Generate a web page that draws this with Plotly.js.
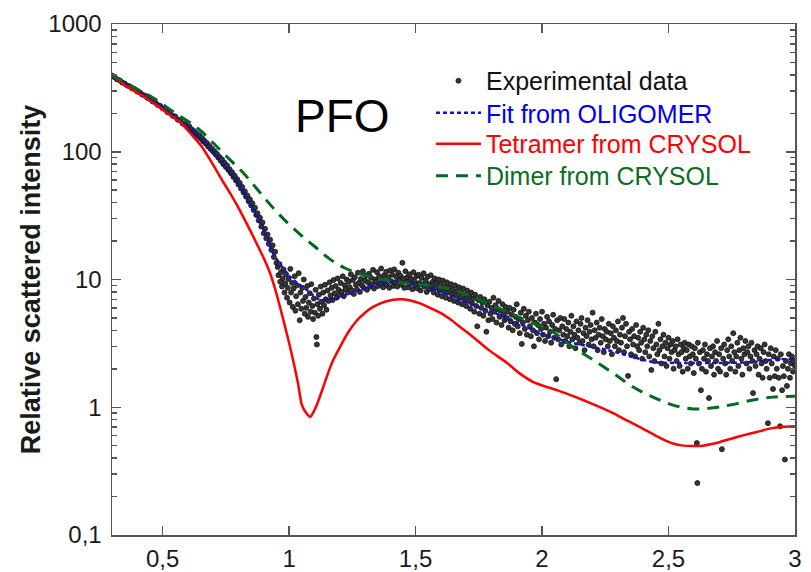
<!DOCTYPE html>
<html>
<head>
<meta charset="utf-8">
<script src="https://cdn.plot.ly/plotly-3.0.1.min.js"></script>
<style>html,body{margin:0;padding:0;background:#fff;}#chart{width:811px;height:572px;}</style>
</head>
<body>
<div id="chart"></div>
<script>
const expX = [
0.300,0.310,0.320,0.330,0.340,0.350,0.360,0.370,0.380,0.390,
0.400,0.410,0.420,0.430,0.440,0.450,0.460,0.470,0.480,0.490,
0.500,0.510,0.520,0.530,0.540,0.550,0.560,0.570,0.580,0.590,
0.600,0.605,0.610,0.615,0.620,0.625,0.630,0.635,0.640,0.645,
0.650,0.655,0.660,0.665,0.670,0.675,0.680,0.685,0.690,0.695,
0.700,0.705,0.710,0.715,0.720,0.725,0.730,0.735,0.740,0.745,
0.750,0.755,0.760,0.765,0.770,0.775,0.780,0.785,0.790,0.795,
0.800,0.805,0.810,0.815,0.820,0.825,0.830,0.835,0.840,0.845,
0.850,0.855,0.860,0.865,0.870,0.875,0.880,0.885,0.890,0.895,
0.900,0.905,0.910,0.915,0.920,0.925,0.930,0.935,0.940,0.945,0.950,
0.955,0.958,0.962,0.965,0.968,0.972,0.975,0.978,0.982,0.985,0.988,0.992,0.995,0.998,1.002,1.005,1.008,1.012,1.015,1.018,
1.022,1.025,1.028,1.032,1.035,1.038,1.042,1.045,1.048,1.052,1.055,1.058,1.062,1.065,1.068,1.072,1.075,1.078,1.082,1.085,
1.088,1.092,1.095,1.098,1.102,1.105,1.108,1.110,1.112,1.115,1.118,1.122,1.125,1.128,1.132,1.135,1.138,1.142,1.145,1.148,
1.152,1.156,1.160,1.164,1.168,1.172,1.176,1.180,1.184,1.188,1.192,1.196,1.200,1.204,1.208,1.212,1.216,1.220,1.224,1.228,
1.232,1.236,1.240,1.244,1.248,1.252,1.256,1.260,1.264,1.268,1.272,1.276,1.280,1.284,1.288,1.292,1.296,1.300,1.304,1.308,
1.312,1.316,1.320,1.324,1.328,1.332,1.336,1.340,1.344,1.348,1.352,1.356,1.360,1.364,1.368,1.372,1.376,1.380,1.384,1.388,
1.392,1.396,1.400,1.404,1.408,1.412,1.416,1.420,1.424,1.428,1.432,1.436,1.440,1.444,1.448,1.452,1.456,1.460,1.464,1.468,
1.472,1.476,1.480,1.484,1.488,1.492,1.496,1.500,1.504,1.508,1.512,1.516,1.520,1.524,1.528,1.532,1.536,1.540,1.544,1.548,
1.552,1.556,1.560,1.564,1.568,1.572,1.576,1.580,1.584,1.588,1.592,1.596,1.600,1.604,1.608,1.612,1.616,1.620,1.624,1.628,
1.632,1.636,1.640,1.644,1.648,1.652,1.656,1.660,1.664,1.668,1.672,1.676,1.680,1.684,1.688,1.692,1.696,1.700,1.704,1.708,
1.712,1.716,1.720,1.724,1.728,1.732,1.736,1.740,1.744,1.748,1.752,1.756,1.760,1.764,1.768,1.772,1.776,1.780,1.784,1.788,
1.792,1.796,1.800,1.804,1.808,1.812,1.816,1.820,1.824,1.828,1.832,1.836,1.840,1.844,1.848,1.852,1.856,1.860,1.864,1.868,
1.872,1.876,1.880,1.884,1.888,1.892,1.896,1.900,1.904,1.908,1.912,1.916,1.920,1.924,1.928,1.932,1.936,1.940,1.944,1.948,
1.952,1.956,1.960,1.964,1.968,1.972,1.976,1.980,1.984,1.988,1.992,1.996,2.000,2.004,2.008,2.012,2.016,2.020,2.024,2.028,
2.032,2.036,2.040,2.044,2.048,2.052,2.056,2.060,2.064,2.068,2.072,2.076,2.080,2.084,2.088,2.092,2.096,2.100,2.104,2.108,
2.112,2.116,2.120,2.124,2.128,2.132,2.136,2.140,2.144,2.148,2.152,2.156,2.160,2.164,2.168,2.172,2.176,2.180,2.184,2.188,
2.192,2.196,2.200,2.204,2.208,2.212,2.216,2.220,2.224,2.228,2.232,2.236,2.240,2.244,2.248,2.252,2.256,2.260,2.264,2.268,
2.272,2.276,2.280,2.284,2.288,2.292,2.296,2.300,2.304,2.308,2.312,2.316,2.320,2.324,2.328,2.332,2.336,2.340,2.344,2.348,
2.352,2.356,2.360,2.364,2.368,2.372,2.376,2.380,2.384,2.388,2.392,2.396,2.400,2.404,2.408,2.412,2.416,2.420,2.424,2.428,
2.432,2.436,2.440,2.444,2.448,2.452,2.456,2.460,2.464,2.468,2.472,2.476,2.480,2.484,2.488,2.492,2.496,2.500,2.504,2.508,
2.512,2.516,2.520,2.524,2.528,2.532,2.536,2.540,2.544,2.548,2.552,2.556,2.560,2.564,2.568,2.572,2.576,2.580,2.584,2.588,
2.592,2.596,2.600,2.604,2.608,2.612,2.614,2.616,2.620,2.624,2.628,2.632,2.636,2.640,2.644,2.648,2.652,2.656,2.660,2.664,
2.668,2.672,2.676,2.680,2.684,2.688,2.692,2.696,2.700,2.704,2.708,2.711,2.716,2.720,2.724,2.728,2.732,2.736,2.740,2.744,
2.748,2.752,2.756,2.760,2.764,2.768,2.772,2.776,2.780,2.784,2.788,2.792,2.796,2.800,2.804,2.808,2.812,2.816,2.820,2.824,
2.828,2.832,2.834,2.840,2.844,2.848,2.852,2.856,2.860,2.864,2.868,2.872,2.876,2.880,2.884,2.888,2.893,2.896,2.900,2.904,
2.908,2.913,2.916,2.920,2.924,2.928,2.932,2.936,2.941,2.944,2.949,2.952,2.956,2.960,2.964,2.968,2.972,2.976,2.980,2.984,2.988,2.992,2.996,3.000
];
const expY = [
395,383,369,362,348,342,330,325,313,308,
296,291,280,275,264,259,248,244,233,229,
219,215,204,201,191,189,178,176,166,164,
155,158,149,150,143,145,138,139,132,134,
127,128,121,122,116,117,110,111,105,106,
100,101,95,96,90,91,85,87,80,82,
76,78,72,73,68,69,63.5,65,59.5,61,
55.5,57,51.5,53,48,49,44.5,45.5,41,42.5,
38,39.5,35,36.5,32,33,29,30.5,26,28,
23,25,21,22.5,19,20.5,17,18.5,15,16.5,13.5,
12.5,10.8,13.2,9.6,11.4,8.8,10.2,12.0,7.9,9.3,11.0,7.2,8.6,10.1,6.6,12.1,7.9,9.4,6.1,8.5,
10.6,5.7,7.4,9.0,6.4,11.2,4.8,7.9,5.9,8.6,6.8,10.0,5.4,7.3,6.0,8.9,5.1,6.6,7.8,5.6,
9.2,6.2,4.9,7.1,5.5,8.3,3.55,3.1,6.4,5.2,7.6,5.9,8.8,6.7,5.4,7.9,6.3,9.1,7.0,5.8,
8.2,6.8,9.5,7.5,8.6,6.9,9.9,7.8,8.9,7.2,10.2,8.3,7.6,9.4,8.0,10.6,7.4,9.0,8.4,10.0,
7.9,9.6,8.7,11.0,8.2,9.9,7.7,10.4,9.1,8.4,11.3,9.4,8.0,10.1,9.0,11.6,8.6,9.8,10.7,8.3,
9.5,11.1,8.8,10.3,9.2,11.9,8.5,10.0,9.6,11.4,8.9,10.6,9.3,12.2,9.9,8.7,10.8,9.4,11.5,9.0,
10.4,8.6,11.8,9.7,10.9,8.9,12.0,9.5,10.5,8.8,11.3,9.9,10.7,9.1,13.5,10.2,8.6,11.6,9.6,10.4,
8.7,11.0,9.3,10.1,8.4,11.4,9.7,9.0,10.6,8.5,10.9,9.4,8.2,10.3,9.1,11.2,8.8,9.8,8.0,10.5,
9.2,8.4,10.8,8.9,9.6,7.9,10.2,8.6,9.4,7.6,10.0,8.3,9.1,7.4,9.8,8.1,8.8,7.2,9.5,7.9,
8.6,7.0,9.2,7.7,8.3,6.8,9.0,7.5,8.1,6.6,8.7,7.2,7.9,6.4,8.5,7.0,7.6,6.2,8.2,6.8,
7.4,5.9,7.9,6.5,7.1,5.6,7.6,6.2,4.3,6.9,5.4,7.3,6.0,6.6,5.2,7.0,5.7,3.9,6.3,4.8,
6.7,5.4,6.0,4.9,7.2,5.6,6.3,4.6,5.9,6.8,5.1,5.7,4.4,6.4,5.3,4.8,6.1,5.0,5.6,4.2,
6.0,4.7,5.3,4.0,5.8,4.5,5.1,6.4,4.3,4.9,3.8,5.5,3.13,4.6,5.9,4.1,5.2,3.7,4.8,5.6,
4.3,3.6,5.0,4.0,3.0,4.6,5.4,3.8,4.4,3.4,4.9,4.1,5.6,3.7,4.5,3.3,4.2,5.1,3.6,4.7,
3.9,3.2,4.4,5.3,3.5,4.1,1.66,4.8,3.4,4.0,5.0,3.1,4.3,3.7,4.9,3.3,4.1,3.6,4.6,3.0,
3.9,5.2,3.4,4.3,3.7,2.9,4.7,3.5,4.0,3.2,4.5,5.0,3.3,3.8,2.8,4.2,3.6,4.8,3.1,3.9,
4.4,3.4,5.5,3.0,4.0,3.5,4.6,2.8,3.7,4.2,3.2,4.9,3.6,2.7,4.1,3.4,3.9,3.0,4.5,3.3,
3.8,2.6,4.3,3.5,3.0,4.0,3.3,4.7,2.8,3.7,3.2,4.2,5.0,2.7,3.6,4.5,3.0,1.76,3.9,3.4,
2.6,4.1,3.1,3.6,2.5,4.4,3.0,3.5,2.8,3.9,3.2,2.4,4.2,3.4,2.7,3.7,3.0,4.0,2.5,3.3,
1.96,3.6,2.9,2.3,3.9,3.1,2.6,4.5,2.8,3.4,2.2,3.0,3.7,2.5,3.2,2.1,2.9,3.5,2.4,3.1,
2.7,3.3,2.0,2.8,3.0,2.3,3.4,2.6,2.1,3.1,2.7,1.9,2.9,3.2,2.4,2.8,2.0,3.1,2.5,2.2,
3.0,2.6,1.85,2.9,2.4,0.525,0.255,3.2,2.2,2.7,1.36,2.0,2.8,2.4,3.1,1.9,2.6,2.3,1.18,2.9,
2.1,2.5,3.0,1.8,2.7,2.3,3.3,2.0,2.6,1.9,2.9,0.47,2.4,3.1,2.2,1.8,2.8,3.4,2.5,2.0,
3.0,2.3,3.8,2.7,1.9,2.5,3.2,2.1,2.8,3.5,2.4,1.8,2.9,2.6,3.3,2.2,2.7,3.0,2.0,2.5,
3.2,2.3,1.29,2.8,2.1,2.6,3.0,1.8,2.4,2.9,2.2,1.7,2.7,3.1,2.3,2.0,0.75,2.6,1.7,2.9,
2.2,1.39,2.5,1.75,2.8,2.0,2.4,1.7,0.71,2.6,1.36,2.1,1.75,0.39,2.3,1.47,2.0,2.6,1.7,2.2,2.5,1.9,2.3,2.1
];

// ---- Fit from OLIGOMER ----
const fitX = [0.300,0.403,0.470,0.537,0.616,0.695,0.774,0.838,0.905,0.936,1.004,1.071,1.122,1.189,1.280,1.359,1.439,1.545,1.648,1.727,1.862,1.992,2.122,2.257,2.360,2.439,2.573,2.704,2.834,2.941,3.000];
const fitY = [392,294,248,194,148,103,68,41.9,23.1,16.1,10.5,8.28,6.92,7.17,8.28,9.4,9.55,8.73,7.3,6.31,5.0,3.81,3.18,2.81,2.47,2.26,2.22,2.22,2.26,2.39,2.34];

// ---- Tetramer from CRYSOL ----
const tetX = [0.300,0.351,0.410,0.470,0.520,0.577,0.616,0.656,0.700,0.735,0.765,0.798,0.830,0.865,0.895,0.925,0.945,0.964,0.985,1.004,1.020,1.035,1.050,1.068,1.083,1.098,1.114,1.134,1.154,1.175,1.201,1.235,1.269,1.300,1.332,1.385,1.439,1.480,1.518,1.557,1.597,1.636,1.676,1.727,1.790,1.862,1.910,1.964,2.010,2.059,2.110,2.162,2.220,2.281,2.335,2.387,2.439,2.470,2.500,2.525,2.550,2.600,2.636,2.670,2.704,2.771,2.820,2.862,2.900,2.941,3.000];
const tetY = [399,330,283,236,200,165,135,109,79,60,48,37,28,20.4,15.4,11.2,8.4,6.1,4.2,2.96,2.14,1.55,1.05,0.90,0.84,0.93,1.10,1.42,1.85,2.35,2.96,3.9,4.8,5.5,6.1,6.75,7.0,6.85,6.5,6.0,5.5,4.9,4.25,3.55,2.8,2.22,1.85,1.58,1.46,1.36,1.25,1.14,1.02,0.90,0.79,0.70,0.615,0.57,0.535,0.515,0.503,0.497,0.50,0.515,0.535,0.585,0.62,0.65,0.68,0.70,0.71];

// ---- Dimer from CRYSOL ----
const dimX = [0.300,0.380,0.462,0.549,0.640,0.700,0.750,0.814,0.860,0.905,0.950,1.000,1.050,1.100,1.160,1.220,1.280,1.340,1.440,1.550,1.640,1.727,1.862,1.964,2.032,2.122,2.202,2.281,2.360,2.439,2.518,2.597,2.676,2.743,2.834,2.913,3.000];
const dimY = [399,325,264,201,152,117,93,70,55,43,34,27,22,18.2,14.5,12.3,11.1,10.3,9.5,9.0,8.4,7.3,5.57,4.56,4.02,2.96,2.35,1.85,1.44,1.20,1.04,0.97,0.99,1.04,1.14,1.20,1.22];

// ---- Ticks ----
const xTickVals = [0.5, 1, 1.5, 2, 2.5, 3];
const xTickText = ['0,5', '1', '1,5', '2', '2,5', '3'];
const yTickVals = [0.1, 1, 10, 100, 1000];
const yTickText = ['0,1', '1', '10', '100', '1000'];
const yMinorVals = [0.2,0.3,0.4,0.5,0.6,0.7,0.8,0.9,2,3,4,5,6,7,8,9,20,30,40,50,60,70,80,90,200,300,400,500,600,700,800,900];

const seriesNames = [
  'Experimental data',
  '<span style="color:#0000ee">Fit from OLIGOMER</span>',
  '<span style="color:#ff0000">Tetramer from CRYSOL</span>',
  '<span style="color:#0a6e1e">Dimer from CRYSOL</span>'
];

const FONT = 'Liberation Sans, Arial, Helvetica, sans-serif';
const AX = '#555555';

const traces = [
  {x: expX, y: expY, type: 'scatter', mode: 'markers', name: seriesNames[0], legend: 'legend',
   marker: {size: 5, color: '#363636', line: {width: 0.8, color: '#111'}}},
  {x: fitX, y: fitY, type: 'scatter', mode: 'lines', name: seriesNames[1], legend: 'legend2',
   line: {color: '#1010d0', width: 2.5, dash: '4px,3px', shape: 'spline', smoothing: 0.8}},
  {x: tetX, y: tetY, type: 'scatter', mode: 'lines', name: seriesNames[2], legend: 'legend3',
   line: {color: '#ff0000', width: 2.5, shape: 'spline', smoothing: 0.5}},
  {x: dimX, y: dimY, type: 'scatter', mode: 'lines', name: seriesNames[3], legend: 'legend4',
   line: {color: '#006a1e', width: 3, dash: '12px,8px', shape: 'spline', smoothing: 1}}
];

function legendAt(y) {
  return {
    x: 0.467, y: y, xanchor: 'left', yanchor: 'top',
    bgcolor: 'rgba(0,0,0,0)', borderwidth: 0,
    font: {size: 25, family: FONT, color: '#111'}, itemwidth: 45
  };
}

const layout = {
  width: 811, height: 572,
  margin: {l: 112, r: 16, t: 24, b: 37},
  paper_bgcolor: '#fff', plot_bgcolor: '#fff',
  font: {family: FONT, color: '#1a1a1a'},
  showlegend: true,
  xaxis: {
    range: [0.3, 3], tickmode: 'array', tickvals: xTickVals, ticktext: xTickText,
    ticks: 'inside', ticklen: 9, tickwidth: 1.5, tickcolor: AX,
    showline: true, linecolor: AX, linewidth: 1.5, mirror: 'ticks',
    showgrid: false, zeroline: false, tickfont: {size: 24, family: FONT, color: '#1a1a1a'},
    ticklabelstandoff: 2
  },
  yaxis: {
    type: 'log', range: [-1, 3], tickmode: 'array', tickvals: yTickVals, ticktext: yTickText,
    ticks: 'inside', ticklen: 9, tickwidth: 1.5, tickcolor: AX,
    minor: {tickmode: 'array', tickvals: yMinorVals, ticks: 'inside', ticklen: 5, tickwidth: 1.5, tickcolor: AX, showgrid: false},
    showline: true, linecolor: AX, linewidth: 1.5, mirror: 'ticks',
    showgrid: false, zeroline: false, tickfont: {size: 24, family: FONT, color: '#1a1a1a'},
    ticklabelstandoff: 4,
    title: {text: 'Relative scattered intensity', font: {size: 27, family: FONT, weight: 'bold', color: '#1a1a1a'}, standoff: 0}
  },
  legend: legendAt(0.9335),
  legend2: legendAt(0.8708),
  legend3: legendAt(0.8102),
  legend4: legendAt(0.7476),
  annotations: [{
    text: 'PFO', xref: 'paper', yref: 'paper', x: 0.338, y: 0.82,
    xanchor: 'center', yanchor: 'middle', showarrow: false,
    font: {size: 46, family: FONT, color: '#000'}
  }]
};

Plotly.newPlot('chart', traces, layout, {displayModeBar: false, staticPlot: true});
</script>
</body>
</html>
